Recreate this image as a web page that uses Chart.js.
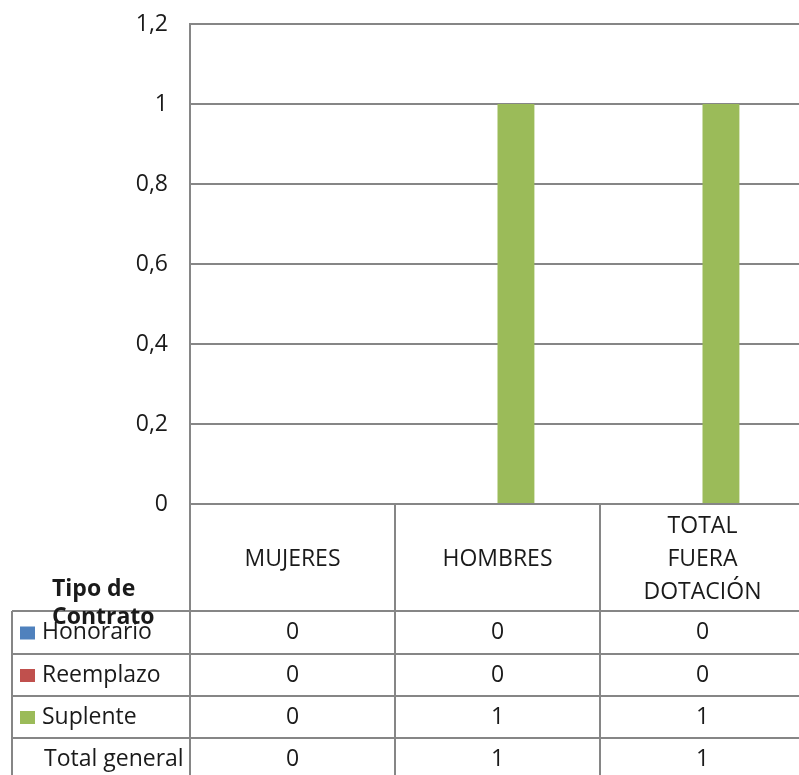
<!DOCTYPE html>
<html>
<head>
<meta charset="utf-8">
<script src="https://cdn.jsdelivr.net/npm/chart.js@4"></script>
<style>
html, body { margin: 0; padding: 0; background: #fff; overflow: hidden; }
#wrap { position: absolute; left: 0; top: 0; width: 820px; height: 775px; }
</style>
</head>
<body>
<div id="wrap"><canvas id="tipoContratoChart"></canvas></div>
<script>
var categories = [['MUJERES'], ['HOMBRES'], ['TOTAL', 'FUERA', 'DOTACIÓN']];
var seriesNames = ['Honorario', 'Reemplazo', 'Suplente'];
var honorario = [0, 0, 0];
var reemplazo = [0, 0, 0];
var suplente = [0, 1, 1];
var totalGeneral = [0, 1, 1];
var yTickLabels = ['0', '0,2', '0,4', '0,6', '0,8', '1', '1,2'];
var tableTitle = ['Tipo de', 'Contrato'];
var totalLabel = 'Total general';
var seriesColors = ['#4F81BD', '#C0504D', '#9BBB59'];

var FONT = '"Open Sans", sans-serif';
var FSIZE = 23;
var LINE = '#868686';
var TEXT = '#1a1a1a';

// data table drawn under the plot, columns taken from the x scale
var dataTablePlugin = {
	id: 'dataTable',
	afterDraw: function(chart) {
		var ctx = chart.ctx;
		var xs = chart.scales.x;
		var area = chart.chartArea;
		var colW = (area.right - area.left) / categories.length;
		var left = 12;
		var rowTops = [611, 654, 696, 738, 781];
		var seriesData = [honorario, reemplazo, suplente];

		ctx.save();
		ctx.strokeStyle = LINE;
		ctx.lineWidth = 2;

		// vertical lines
		ctx.beginPath();
		for (var i = 0; i <= categories.length; i++) {
			var vx = area.left + colW * i;
			ctx.moveTo(vx, area.bottom);
			ctx.lineTo(vx, 800);
		}
		ctx.moveTo(left, rowTops[0]);
		ctx.lineTo(left, 800);
		// horizontal lines
		rowTops.forEach(function(t) {
			ctx.moveTo(left, t);
			ctx.lineTo(area.right, t);
		});
		ctx.stroke();

		ctx.fillStyle = TEXT;
		ctx.textAlign = 'center';
		ctx.textBaseline = 'middle';
		ctx.font = FSIZE + 'px ' + FONT;

		// header: category names
		var headMid = (area.bottom + rowTops[0]) / 2 + 2;
		categories.forEach(function(lines, i) {
			var cx = xs.getPixelForValue(i);
			var lh = 33;
			var y0 = headMid - (lines.length - 1) * lh / 2;
			lines.forEach(function(s, k) {
				ctx.fillText(s, cx, y0 + k * lh);
			});
		});

		// series rows
		seriesNames.forEach(function(name, r) {
			var cy = (rowTops[r] + rowTops[r + 1]) / 2;
			ctx.fillStyle = seriesColors[r];
			ctx.fillRect(20, cy - 6, 15, 13);
			ctx.fillStyle = TEXT;
			ctx.textAlign = 'left';
			ctx.fillText(name, 42, cy);
			ctx.textAlign = 'center';
			seriesData[r].forEach(function(v, i) {
				ctx.fillText(String(v), xs.getPixelForValue(i), cy);
			});
		});

		// total row
		var ty = (rowTops[3] + rowTops[4]) / 2;
		ctx.textAlign = 'left';
		ctx.fillText(totalLabel, 44, ty);
		ctx.textAlign = 'center';
		totalGeneral.forEach(function(v, i) {
			ctx.fillText(String(v), xs.getPixelForValue(i), ty);
		});

		// bold title of the legend column
		ctx.textAlign = 'left';
		ctx.font = 'bold ' + FSIZE + 'px ' + FONT;
		ctx.fillText(tableTitle[0], 52, 589);
		ctx.fillText(tableTitle[1], 52, 617);

		ctx.restore();
	}
};

function renderChart(id) {
	var chart = document.getElementById(id);

	var datasets = [honorario, reemplazo, suplente].map(function(d, i) {
		return {
			label: seriesNames[i],
			data: d,
			backgroundColor: seriesColors[i],
			borderWidth: 0,
			stack: i < 2 ? 'a' : 'b',
			categoryPercentage: 0.36,
			barPercentage: 1.0
		};
	});

	var options = {
		type: 'bar',
		data: {
			labels: categories,
			datasets: datasets
		},
		options: {
			responsive: true,
			maintainAspectRatio: false,
			animation: false,
			layout: {
				padding: { top: 24, right: 15, bottom: 271, left: 0 }
			},
			scales: {
				x: {
					display: false
				},
				y: {
					min: 0,
					max: 1.2,
					afterFit: function(scale) {
						scale.width = 190;
						scale.paddingTop = 0;
						scale.paddingBottom = 0;
					},
					ticks: {
						stepSize: 0.2,
						padding: 22,
						color: TEXT,
						font: { family: FONT, size: FSIZE },
						callback: function(v, i) { return yTickLabels[i]; }
					},
					grid: { color: LINE, lineWidth: 2, drawTicks: false },
					border: { color: LINE, width: 2 }
				}
			},
			plugins: {
				legend: { display: false },
				tooltip: { enabled: false }
			}
		},
		plugins: [dataTablePlugin]
	};

	new Chart(chart, options);
}

renderChart('tipoContratoChart');
</script>
</body>
</html>
